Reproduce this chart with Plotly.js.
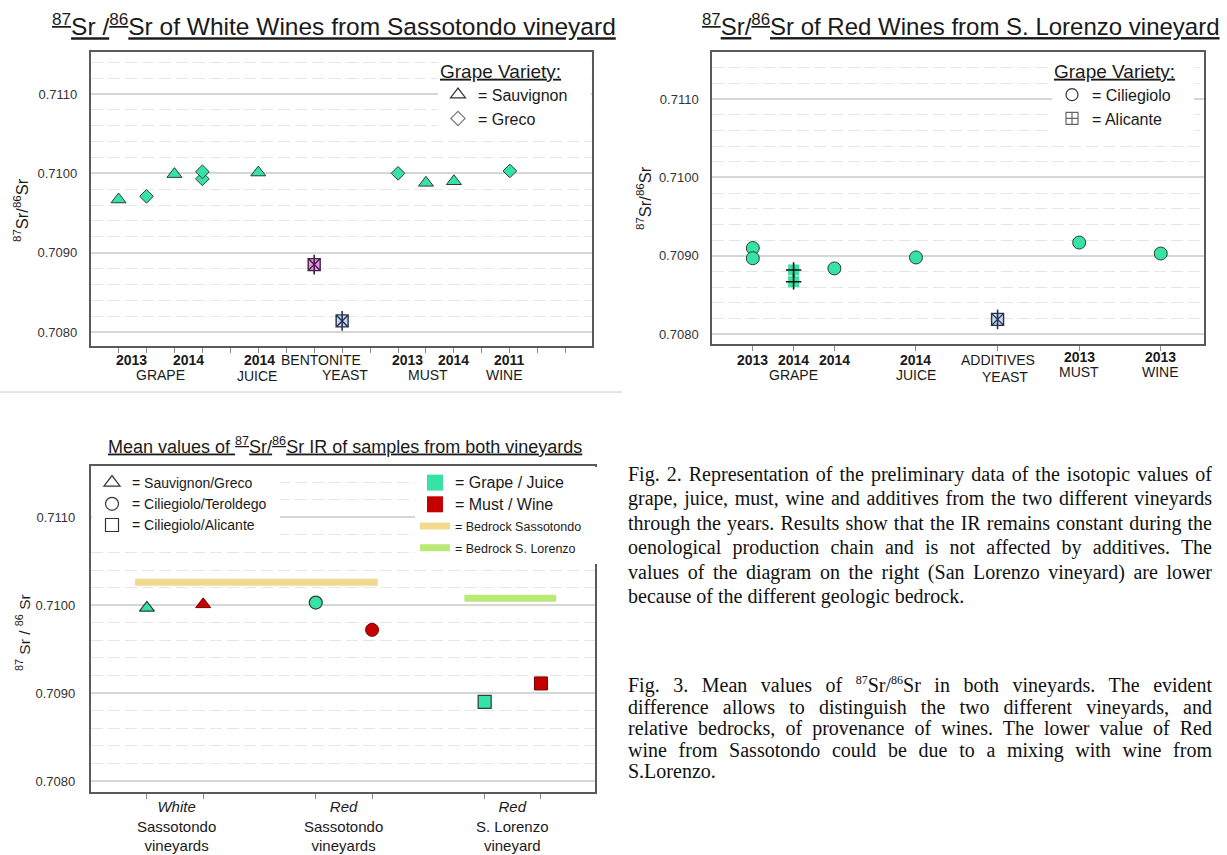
<!DOCTYPE html>
<html>
<head>
<meta charset="utf-8">
<script src="https://cdn.plot.ly/plotly-3.0.1.min.js"></script>
<style>
  html, body { margin: 0; padding: 0; background: #fff; }
  #wrap { position: relative; width: 1227px; height: 855px; overflow: hidden; }
  #chart { position: absolute; left: 0; top: 0; width: 1227px; height: 855px; }
  .cap { position: absolute; left: 628px; width: 584px; font-family: "Liberation Serif", "Times New Roman", serif; font-size: 20px; color: #111; }
  .cap div { white-space: nowrap; text-align: justify; text-align-last: justify; }
  .cap div.last { text-align-last: left; }
  .cap sup { font-size: 12px; vertical-align: 8px; line-height: 0; }
</style>
</head>
<body>
<div id="wrap">
  <div id="chart"></div>
  <div class="cap" id="fig2" style="top:462px; line-height:24.4px;"></div>
  <div class="cap" id="fig3" style="top:675px; line-height:21.6px;"></div>
</div>
<script>
// ---------------- DATA ----------------
// Plot 1: White wines, Sassotondo (x = slot index along the axis)
const sauvignonX = [1, 3, 6, 12, 13];
const sauvignonY = [0.70967, 0.70999, 0.71001, 0.70988, 0.70990];
const grecoX = [2, 4, 4, 11, 15];
const grecoY = [0.70971, 0.70993, 0.71002, 0.71000, 0.71003];
const additivesWhiteNames = ['Bentonite', 'Yeast'];
const additivesWhiteX = [8, 9];
const additivesWhiteY = [0.70885, 0.70814];
const ticks1 = [1,2,3,4,5,6,7,8,9,10,11,12,13,14,15,16,17];
const labels1Top = ['2013', '2014', '2014', 'BENTONITE', '2013', '2014', '2011'];
const labels1TopPos = [1.47, 3.5, 6.04, 8.24, 11.35, 13.0, 15.0];
const labels1Bot = ['GRAPE', 'JUICE', 'YEAST', 'MUST', 'WINE'];
const labels1BotPos = [2.5, 5.95, 9.1, 12.07, 14.8];

// Plot 2: Red wines, S. Lorenzo
const ciliegioloX = [1, 1, 3, 5, 9, 11];
const ciliegioloY = [0.70910, 0.70897, 0.70884, 0.70898, 0.70917, 0.70903];
const alicanteX = [2, 2];
const alicanteY = [0.70882, 0.70867];
const additivesRedNames = ['Yeast'];
const additivesRedX = [7];
const additivesRedY = [0.70819];
const ticks2 = [1, 2, 3, 5, 7, 9, 11];
const labels2Top = ['2013', '2014', '2014', '2014', 'ADDITIVES', '2013', '2013'];
const labels2TopPos = [1, 2, 3, 5, 7, 9, 11];
const labels2Bot = ['GRAPE', 'JUICE', 'YEAST', 'MUST', 'WINE'];
const labels2BotPos = [2, 5, 7.18, 9, 11];

// Plot 3: Mean values
const meanGrapeX = [1, 4, 7];
const meanGrapeY = [0.70997, 0.71003, 0.70890];
const meanMustX = [2, 5, 8];
const meanMustY = [0.71001, 0.70972, 0.70911];
const meanSymbols = ['triangle-up', 'circle', 'square'];
const bedrockSassotondoX = [0.79, 5.1];
const bedrockSassotondoY = [0.71026, 0.71026];
const bedrockLorenzoX = [6.64, 8.27];
const bedrockLorenzoY = [0.71008, 0.71008];
const ticks3 = [1, 2, 4, 5, 7, 8];
const groups3 = ['<i>White</i><br>Sassotondo<br>vineyards', '<i>Red</i><br>Sassotondo<br>vineyards', '<i>Red</i><br>S. Lorenzo<br>vineyard'];
const groups3Pos = [1.53, 4.5, 7.5];

// ---------------- STYLE ----------------
const FONT = 'Liberation Sans, Arial, sans-serif';
const GREEN = '#36e3a4';
const RED = '#c40000';
const EDGE = '#2d3d37';
const W = 1227, H = 855;
const px = v => v / W;
const py = v => 1 - v / H;
const pad = n => '\u00a0'.repeat(n);
const ADD_FILL = {Bentonite: '#f08cf0', Yeast: '#c6d6f0'};
const ADD_INK = {Bentonite: '#3d2440', Yeast: '#26334d'};

function mk(x, y, xa, ya, marker) {
  return {type: 'scatter', mode: 'markers', x: x.slice(), y: y.slice(), xaxis: xa, yaxis: ya,
    marker: marker, showlegend: false, hoverinfo: 'x+y'};
}
function legendDummy(xa, ya, marker, name, legend, group, rank) {
  return {type: 'scatter', mode: 'markers', x: [null], y: [null], xaxis: xa, yaxis: ya,
    marker: marker, name: name, legend: legend, legendgroup: group, legendrank: rank || 1000, showlegend: true, hoverinfo: 'skip'};
}
function additiveTraces(names, x, y, xa, ya) {
  const fills = names.map(n => ADD_FILL[n]);
  const inks = names.map(n => ADD_INK[n]);
  return [
    mk(x, y, xa, ya, {symbol: 'square-x', size: 12, color: fills, line: {color: inks, width: 1.4}}),
    mk(x, y, xa, ya, {symbol: 'line-ns-open', size: 14, color: inks, line: {color: inks, width: 1.6}})
  ];
}

const traces = [];
// Plot 1
traces.push(mk(sauvignonX, sauvignonY, 'x', 'y', {symbol: 'triangle-up', size: 13, color: GREEN, line: {color: EDGE, width: 1}}));
traces.push(mk(grecoX, grecoY, 'x', 'y', {symbol: 'diamond', size: 10.5, color: GREEN, line: {color: EDGE, width: 1}}));
traces.push(...additiveTraces(additivesWhiteNames, additivesWhiteX, additivesWhiteY, 'x', 'y'));
traces.push(legendDummy('x', 'y', {symbol: 'triangle-up', size: 13, color: '#fff', line: {color: '#333', width: 1.2}}, '= Sauvignon' + pad(4), 'legend', 'a'));
traces.push(legendDummy('x', 'y', {symbol: 'diamond', size: 11, color: '#fff', line: {color: '#777', width: 1.2}}, '= Greco', 'legend', 'b'));
// Plot 2
traces.push(mk(alicanteX, alicanteY, 'x2', 'y2', {symbol: 'square', size: 11, color: GREEN, line: {width: 0}}));
traces.push(mk(alicanteX, alicanteY, 'x2', 'y2', {symbol: 'cross-thin-open', size: 11, color: '#111', line: {color: '#111', width: 1.6}}));
traces.push(mk(ciliegioloX, ciliegioloY, 'x2', 'y2', {symbol: 'circle', size: 13, color: GREEN, line: {color: EDGE, width: 1}}));
traces.push(...additiveTraces(additivesRedNames, additivesRedX, additivesRedY, 'x2', 'y2'));
traces.push(legendDummy('x2', 'y2', {symbol: 'circle', size: 12, color: '#fff', line: {color: '#333', width: 1.2}}, '= Ciliegiolo' + pad(4), 'legend2', 'a'));
traces.push(legendDummy('x2', 'y2', {symbol: 'square-cross', size: 12, color: '#fff', line: {color: '#666', width: 1.2}}, '= Alicante', 'legend2', 'b'));
// Plot 3
traces.push({type: 'scatter', mode: 'lines', x: bedrockSassotondoX, y: bedrockSassotondoY, xaxis: 'x3', yaxis: 'y3',
  line: {color: '#f2d98e', width: 7}, name: '<span style="font-size:12.5px">= Bedrock Sassotondo</span>' + pad(3), legend: 'legend4', legendgroup: 'c', legendrank: 3, hoverinfo: 'y'});
traces.push({type: 'scatter', mode: 'lines', x: bedrockLorenzoX, y: bedrockLorenzoY, xaxis: 'x3', yaxis: 'y3',
  line: {color: '#b9ea75', width: 7}, name: '<span style="font-size:12.5px">= Bedrock S. Lorenzo</span>', legend: 'legend4', legendgroup: 'd', legendrank: 4, hoverinfo: 'y'});
traces.push(mk(meanGrapeX, meanGrapeY, 'x3', 'y3', {symbol: meanSymbols, size: 13, color: GREEN, line: {color: EDGE, width: 1.2}}));
traces.push(mk(meanMustX, meanMustY, 'x3', 'y3', {symbol: meanSymbols, size: 13, color: RED, line: {color: '#7a0000', width: 1}}));
traces.push(legendDummy('x3', 'y3', {symbol: 'triangle-up', size: 14, color: '#fff', line: {color: '#333', width: 1.2}}, '= Sauvignon/Greco', 'legend3', 'a', 1));
traces.push(legendDummy('x3', 'y3', {symbol: 'circle', size: 13, color: '#fff', line: {color: '#333', width: 1.2}}, '= Ciliegiolo/Teroldego' + pad(2), 'legend3', 'b', 2));
traces.push(legendDummy('x3', 'y3', {symbol: 'square', size: 13, color: '#fff', line: {color: '#333', width: 1.2}}, '= Ciliegiolo/Alicante', 'legend3', 'c', 3));
traces.push(legendDummy('x3', 'y3', {symbol: 'square', size: 16, color: GREEN, line: {width: 0}}, '<span style="font-size:16px">= Grape / Juice</span>', 'legend4', 'a', 1));
traces.push(legendDummy('x3', 'y3', {symbol: 'square', size: 16, color: RED, line: {width: 0}}, '<span style="font-size:16px">= Must / Wine</span>', 'legend4', 'b', 2));

// ---------------- LAYOUT ----------------
function yax(domain, range, standoff) {
  return {domain: domain, range: range, tick0: 0.708, dtick: 0.001, tickformat: '.4f',
    showgrid: true, gridcolor: '#d6d6d6', gridwidth: 1.6, zeroline: false,
    minor: {tick0: 0.708, dtick: 0.0002, showgrid: true, gridcolor: '#e6e6e6', gridwidth: 1, griddash: '12px,5px', ticks: ''},
    showline: true, mirror: true, linecolor: '#5a5a5a', linewidth: 1.5,
    ticks: '', ticklabelstandoff: standoff, tickfont: {family: FONT, size: 13, color: '#333'}, fixedrange: true};
}
function xax(domain, range, tickvals, anchor) {
  return {domain: domain, range: range, anchor: anchor, tickvals: tickvals, showticklabels: false,
    ticks: 'outside', ticklen: 5, tickcolor: '#8a8a8a', tickwidth: 1,
    showgrid: false, zeroline: false, showline: true, mirror: true, linecolor: '#5a5a5a', linewidth: 1.5, fixedrange: true};
}

const annotations = [];
function ann(text, x, y, opts) {
  annotations.push(Object.assign({text: text, x: x, y: y, xref: 'paper', yref: 'paper', showarrow: false,
    xanchor: 'center', yanchor: 'middle', font: {family: FONT, size: 14, color: '#1a1a1a'}}, opts || {}));
}
// Titles
ann('<u><sup>87</sup>Sr /<sup>86</sup>Sr of White Wines from Sassotondo vineyard</u>', px(334), py(25), {font: {family: FONT, size: 24.5, color: '#1a1a1a'}});
ann('<u><sup>87</sup>Sr/<sup>86</sup>Sr of Red Wines from S. Lorenzo vineyard</u>', px(961), py(25), {font: {family: FONT, size: 24, color: '#1a1a1a'}});
ann('<u>Mean values of <sup>87</sup>Sr/<sup>86</sup>Sr IR of samples from both vineyards</u>', px(345), py(445), {font: {family: FONT, size: 18, color: '#1a1a1a'}});
// Y titles
ann('<sup>87</sup>Sr/<sup>86</sup>Sr', px(21), py(210), {textangle: -90, font: {family: FONT, size: 16.5, color: '#1a1a1a'}});
ann('<sup>87</sup>Sr/<sup>86</sup>Sr', px(644), py(198), {textangle: -90, font: {family: FONT, size: 16.5, color: '#1a1a1a'}});
ann('<sup>87</sup> Sr / <sup>86</sup> Sr', px(23), py(633), {textangle: -90, font: {family: FONT, size: 15.5, color: '#1a1a1a'}});
// Category labels (two rows under each of the top plots)
function catLabels(texts, pos, xref, yPix) {
  texts.forEach((t, i) => {
    const bold = /^\d+$/.test(t);
    annotations.push({text: bold ? '<b>' + t + '</b>' : t, x: pos[i], y: py(yPix[i]), xref: xref, yref: 'paper',
      showarrow: false, xanchor: 'center', yanchor: 'middle', font: {family: FONT, size: 14, color: '#1a1a1a'}});
  });
}
catLabels(labels1Top, labels1TopPos, 'x', [360, 360, 360, 360, 360, 360, 360]);
catLabels(labels1Bot, labels1BotPos, 'x', [375, 376, 375.5, 375, 375]);
catLabels(labels2Top, labels2TopPos, 'x2', [360, 360, 360, 360, 360, 357, 357]);
catLabels(labels2Bot, labels2BotPos, 'x2', [375, 375, 377, 372, 372]);
groups3.forEach((t, i) => annotations.push({text: t, x: groups3Pos[i], y: py(826), xref: 'x3', yref: 'paper', showarrow: false,
  xanchor: 'center', yanchor: 'middle', font: {family: FONT, size: 15, color: '#1a1a1a'}}));

const legendBase = {xanchor: 'left', yanchor: 'top', bgcolor: '#ffffff', borderwidth: 0, itemclick: false, itemdoubleclick: false,
  font: {family: FONT, size: 16, color: '#1a1a1a'}, tracegroupgap: 0};
const legTitle = {text: '<u>Grape Variety:</u>', font: {family: FONT, size: 19, color: '#1a1a1a'}};

const layout = {
  width: W, height: H, margin: {l: 0, r: 0, t: 0, b: 0}, paper_bgcolor: '#fff', plot_bgcolor: '#fff',
  showlegend: true, hovermode: 'closest',
  xaxis: xax([px(90.6), px(592)], [0, 17.94], ticks1, 'y'),
  yaxis: yax([py(346), py(52)], [0.707824, 0.711529], 9),
  xaxis2: xax([px(712), px(1204)], [0, 12.06], ticks2, 'y2'),
  yaxis2: Object.assign(yax([py(344), py(52)], [0.707876, 0.7116], 9), {anchor: 'x2'}),
  xaxis3: xax([px(90.6), px(595)], [0, 8.96], ticks3, 'y3'),
  yaxis3: Object.assign(yax([py(792), py(466)], [0.707875, 0.711584], 11), {anchor: 'x3'}),
  legend: Object.assign({}, legendBase, {x: px(438), y: py(53), title: legTitle}),
  legend2: Object.assign({}, legendBase, {x: px(1052), y: py(53), title: legTitle}),
  legend3: Object.assign({}, legendBase, {x: px(92), y: py(467), font: {family: FONT, size: 14, color: '#1a1a1a'}}),
  legend4: Object.assign({}, legendBase, {x: px(415), y: py(467), font: {family: FONT, size: 14, color: '#1a1a1a'}, tracegroupgap: 0.5}),
  annotations: annotations,
  shapes: [
    {type: 'line', xref: 'paper', yref: 'paper', x0: 0, x1: px(622), y0: py(392), y1: py(392), line: {color: '#c8c8c8', width: 1}}
  ]
};

// ---------------- CAPTIONS ----------------
const fig2Lines = [
  'Fig. 2. Representation of the preliminary data of the isotopic values of',
  'grape, juice, must, wine and additives from the two different vineyards',
  'through the years. Results show that the IR remains constant during the',
  'oenological production chain and is not affected by additives. The',
  'values of the diagram on the right (San Lorenzo vineyard) are lower',
  'because of the different geologic bedrock.'
];
const fig3Lines = [
  'Fig. 3. Mean values of <sup>87</sup>Sr/<sup>86</sup>Sr in both vineyards. The evident',
  'difference allows to distinguish the two different vineyards, and',
  'relative bedrocks, of provenance of wines. The lower value of Red',
  'wine from Sassotondo could be due to a mixing with wine from',
  'S.Lorenzo.'
];
function fillCaption(id, lines) {
  const el = document.getElementById(id);
  lines.forEach((l, i) => {
    const d = document.createElement('div');
    d.innerHTML = l;
    if (i === lines.length - 1) d.className = 'last';
    el.appendChild(d);
  });
}
fillCaption('fig2', fig2Lines);
fillCaption('fig3', fig3Lines);

Plotly.newPlot('chart', traces, layout, {displayModeBar: false, responsive: false});
</script>
</body>
</html>
